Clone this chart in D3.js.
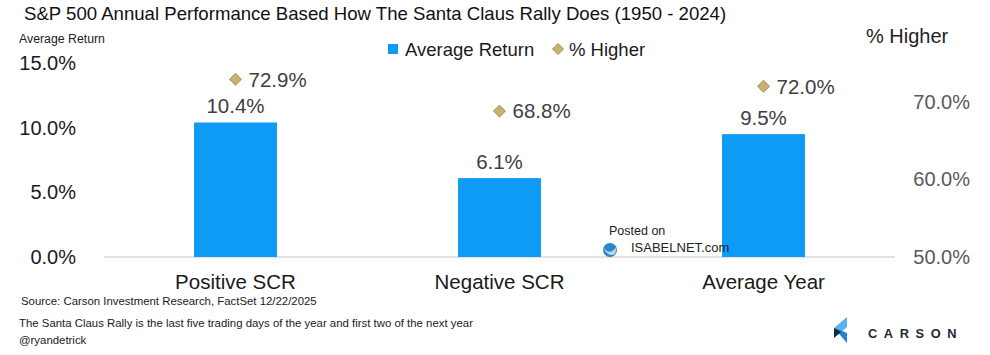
<!DOCTYPE html>
<html><head><meta charset="utf-8">
<script src="https://cdn.jsdelivr.net/npm/d3@7"></script>
<style>
html,body{margin:0;padding:0;background:#fff;}
svg{display:block;font-family:"Liberation Sans",Arial,sans-serif;}
</style></head>
<body>
<svg id="c" width="990" height="355"></svg>
<script>
const categories = ["Positive SCR", "Negative SCR", "Average Year"];
const avgReturn = [10.4, 6.1, 9.5];
const pctHigher = [72.9, 68.8, 72.0];
const leftTicks = [0, 5, 10, 15];
const rightTicks = [50, 60, 70];

const svg = d3.select("#c");
const x = d3.scaleBand().domain(categories).range([103.5, 895.5]).paddingInner(0.686).paddingOuter(0.343);
const yL = d3.scaleLinear().domain([0, 15]).range([257, 63]);
const yR = d3.scaleLinear().domain([50, 75]).range([257, 63]);
const fmt = d => d.toFixed(1) + "%";

// title
svg.append("text").attr("x", 24).attr("y", 20).attr("font-size", 18.6).attr("fill", "#111")
  .text("S&P 500 Annual Performance Based How The Santa Claus Rally Does (1950 - 2024)");
svg.append("text").attr("x", 19).attr("y", 43).attr("font-size", 12.3).attr("fill", "#222").text("Average Return");
svg.append("text").attr("x", 866).attr("y", 43).attr("font-size", 20).attr("fill", "#222").text("% Higher");

// left axis
const la = d3.axisLeft(yL).tickValues(leftTicks).tickFormat(fmt).tickSize(0).tickPadding(0);
const gL = svg.append("g").attr("transform", "translate(76,0)").call(la);
gL.select(".domain").remove();
gL.selectAll("text").attr("font-size", 20).attr("fill", "#1a1a1a").attr("font-family", "Liberation Sans, Arial, sans-serif");

// right axis
const ra = d3.axisLeft(yR).tickValues(rightTicks).tickFormat(fmt).tickSize(0).tickPadding(0);
const gR = svg.append("g").attr("transform", "translate(970,0)").call(ra);
gR.select(".domain").remove();
gR.selectAll("text").attr("font-size", 20).attr("fill", "#595959").attr("font-family", "Liberation Sans, Arial, sans-serif");

// baseline
svg.append("line").attr("x1", 104).attr("x2", 895).attr("y1", yL(0)).attr("y2", yL(0))
  .attr("stroke", "#d9d9d9").attr("stroke-width", 1.5);

// bars
svg.selectAll("rect.bar").data(categories).join("rect").attr("class", "bar")
  .attr("x", d => x(d)).attr("width", x.bandwidth())
  .attr("y", (d, i) => yL(avgReturn[i])).attr("height", (d, i) => yL(0) - yL(avgReturn[i]))
  .attr("fill", "#0e9bf6");
svg.selectAll("text.bl").data(categories).join("text").attr("class", "bl")
  .attr("x", d => x(d) + x.bandwidth() / 2).attr("y", (d, i) => yL(avgReturn[i]) - 9)
  .attr("text-anchor", "middle").attr("font-size", 20.5).attr("fill", "#404040")
  .text((d, i) => fmt(avgReturn[i]));

// diamonds
const diamond = (cx, cy, r) => `M${cx},${cy - r}L${cx + r},${cy}L${cx},${cy + r}L${cx - r},${cy}Z`;
svg.selectAll("path.dm").data(categories).join("path").attr("class", "dm")
  .attr("d", (d, i) => diamond(x(d) + x.bandwidth() / 2, yR(pctHigher[i]), 6))
  .attr("fill", "#c8b36c").attr("stroke", "#8f7c3e").attr("stroke-width", 0.8);
svg.selectAll("text.dl").data(categories).join("text").attr("class", "dl")
  .attr("x", d => x(d) + x.bandwidth() / 2 + 13).attr("y", (d, i) => yR(pctHigher[i]))
  .attr("dy", "0.36em").attr("font-size", 20.5).attr("fill", "#404040")
  .text((d, i) => fmt(pctHigher[i]));

// x labels
svg.selectAll("text.xl").data(categories).join("text").attr("class", "xl")
  .attr("x", d => x(d) + x.bandwidth() / 2).attr("y", 289)
  .attr("text-anchor", "middle").attr("font-size", 20.5).attr("fill", "#1a1a1a").text(d => d);

// legend
svg.append("rect").attr("x", 388).attr("y", 44).attr("width", 10).attr("height", 10).attr("fill", "#0e9bf6");
svg.append("text").attr("x", 405).attr("y", 56).attr("font-size", 18.5).attr("fill", "#1a1a1a").text("Average Return");
svg.append("path").attr("d", diamond(558, 49, 5.5)).attr("fill", "#c8b36c").attr("stroke", "#8f7c3e").attr("stroke-width", 0.8);
svg.append("text").attr("x", 569).attr("y", 56).attr("font-size", 18.5).attr("fill", "#1a1a1a").text("% Higher");

// footnotes
svg.append("text").attr("x", 21).attr("y", 305).attr("font-size", 11.4).attr("fill", "#1a1a1a")
  .text("Source: Carson Investment Research, FactSet 12/22/2025");
svg.append("text").attr("x", 19).attr("y", 327).attr("font-size", 11.4).attr("fill", "#1a1a1a")
  .text("The Santa Claus Rally is the last five trading days of the year and first two of the next year");
svg.append("text").attr("x", 19).attr("y", 344).attr("font-size", 11.4).attr("fill", "#1a1a1a").text("@ryandetrick");

// watermark
svg.append("text").attr("x", 609).attr("y", 235).attr("font-size", 12.5).attr("fill", "#222").text("Posted on");
svg.append("circle").attr("cx", 610).attr("cy", 250).attr("r", 7).attr("fill", "#2a86d0");
svg.append("path").attr("d", "M603,247 Q610,257 617,246 L615,254 Q608,258 603,247Z").attr("fill", "#c9d3dc");
svg.append("text").attr("x", 631).attr("y", 252).attr("font-size", 13).attr("fill", "#222").text("ISABELNET.com");

// carson logo
const lg = svg.append("g");
lg.append("path").attr("d", "M847,317 L834,328 L840,333 L847,327 Z").attr("fill", "#5ab0ee");
lg.append("path").attr("d", "M834,328 L847,343 L847,333 L840,330 Z").attr("fill", "#2a7fd0");
lg.append("path").attr("d", "M834,328 L841,332 L834,338 Z").attr("fill", "#0d2a48");
lg.append("text").attr("x", 868).attr("y", 338).attr("font-size", 12.8).attr("font-weight", "bold")
  .attr("letter-spacing", 6.6).attr("fill", "#1b2a3b").text("CARSON");
</script>
</body></html>
